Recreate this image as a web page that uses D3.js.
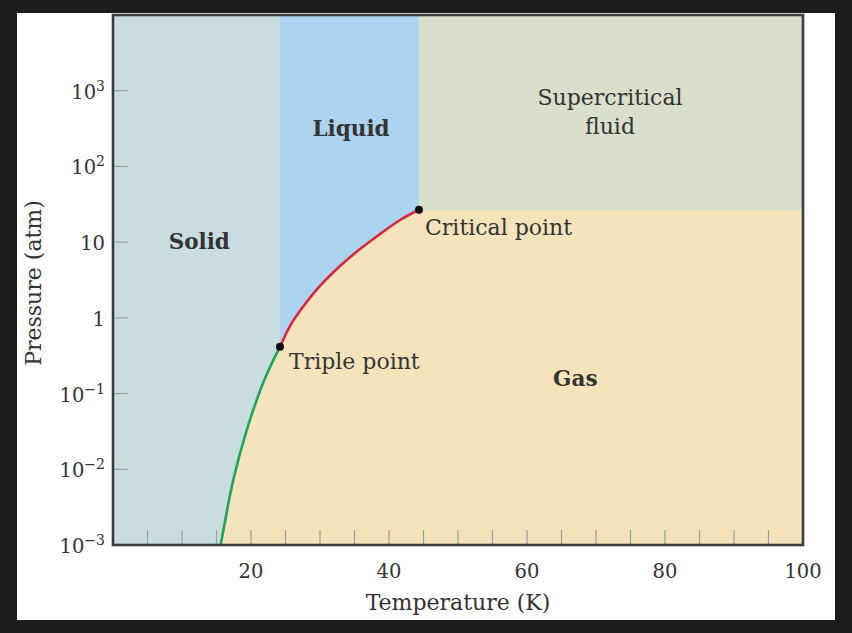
<!DOCTYPE html>
<html><head><meta charset="utf-8">
<script src="https://cdn.jsdelivr.net/npm/d3@7"></script>
<style>
html,body{margin:0;padding:0;background:#1c1c1c;}
svg{display:block;}
text{font-family:"DejaVu Serif",serif;fill:#333333;}
</style></head><body>
<svg id="chart" width="852" height="633"></svg>
<script>
// ---- data (neon phase diagram) ----
const sublimationT = [15.6, 16.49, 17.43, 19.38, 21.93, 24.2];
const sublimationP = [0.001, 0.00273, 0.00723, 0.0330, 0.151, 0.415];
const vaporT = [24.2, 25.65, 27.54, 30.0, 32.9, 35.8, 38.7, 41.6, 44.35];
const vaporP = [0.415, 0.78, 1.40, 2.64, 4.84, 8.11, 12.8, 19.6, 26.8];
const triplePoint = [24.2, 0.415];
const criticalPoint = [44.35, 26.8];
const xDomain = [0, 100];
const yDomain = [1e-3, 1e4];
const xLabelTicks = [20, 40, 60, 80, 100];
const xMinorTicks = [5,10,15,20,25,30,35,40,45,50,55,60,65,70,75,80,85,90,95];
const yTicks = [1e-3, 1e-2, 1e-1, 1, 10, 100, 1000];
const yTickBase = ["10", "10", "10", "1", "10", "10", "10"];
const yTickExp = ["\u22123", "\u22122", "\u22121", "", "", "2", "3"];
const phaseNames = ["Solid", "Liquid", "Gas"];
const phasePos = [[12.5, 8], [34.5, 250], [67, 0.125]];

const svg = d3.select("#chart");
// white panel
svg.append("rect").attr("x", 17).attr("y", 13).attr("width", 818).attr("height", 607).attr("fill", "#ffffff");

const pLeft = 113, pRight = 803, pTop = 15, pBottom = 545;
const x = d3.scaleLinear().domain(xDomain).range([pLeft, pRight]);
const y = d3.scaleLog().domain(yDomain).range([pBottom, pTop]);

const colSolid = "#c9dde1", colLiquid = "#acd3ef", colSuper = "#dadfcc", colGas = "#f5e3bb";

const g = svg.append("g");
// solid background
g.append("rect").attr("x", x(0)).attr("y", y(yDomain[1])).attr("width", x(100) - x(0)).attr("height", y(yDomain[0]) - y(yDomain[1])).attr("fill", colSolid);
// liquid
g.append("rect").attr("x", x(triplePoint[0])).attr("y", y(yDomain[1]))
  .attr("width", x(criticalPoint[0]) - x(triplePoint[0])).attr("height", y(triplePoint[1]) - y(yDomain[1])).attr("fill", colLiquid);
// supercritical
g.append("rect").attr("x", x(criticalPoint[0])).attr("y", y(yDomain[1]))
  .attr("width", x(100) - x(criticalPoint[0])).attr("height", y(criticalPoint[1]) - y(yDomain[1])).attr("fill", colSuper);

const line = d3.line().x(d => x(d[0])).y(d => y(d[1])).curve(d3.curveNatural);
const subPts = sublimationT.map((t, i) => [t, sublimationP[i]]);
const vapPts = vaporT.map((t, i) => [t, vaporP[i]]);

// gas region: under the curves
const gasPath = line(subPts) + line(vapPts).replace(/^M/, "L") +
  `L${x(100)},${y(criticalPoint[1])}L${x(100)},${y(yDomain[0])}L${x(sublimationT[0])},${y(yDomain[0])}Z`;
g.append("path").attr("d", gasPath).attr("fill", colGas);

// ticks (inside)
const tickCol = "#9aa0a0";
g.selectAll(".xt").data(xMinorTicks).enter().append("line")
  .attr("x1", d => x(d)).attr("x2", d => x(d)).attr("y1", pBottom).attr("y2", pBottom - 15)
  .attr("stroke", tickCol).attr("stroke-width", 1.2);
g.selectAll(".yt").data(yTicks.slice(1)).enter().append("line")
  .attr("x1", pLeft).attr("x2", pLeft + 15).attr("y1", d => y(d)).attr("y2", d => y(d))
  .attr("stroke", tickCol).attr("stroke-width", 1.2);

// curves
g.append("path").attr("d", line(subPts)).attr("fill", "none").attr("stroke", "#1ea55c").attr("stroke-width", 2.6);
g.append("path").attr("d", line(vapPts)).attr("fill", "none").attr("stroke", "#d8273f").attr("stroke-width", 2.6);

// border
g.append("rect").attr("x", pLeft).attr("y", pTop).attr("width", pRight - pLeft).attr("height", pBottom - pTop)
  .attr("fill", "none").attr("stroke", "#3a3d3d").attr("stroke-width", 2.6);

// points
g.selectAll(".pt").data([triplePoint, criticalPoint]).enter().append("circle")
  .attr("cx", d => x(d[0])).attr("cy", d => y(d[1])).attr("r", 4).attr("fill", "#111");

// x tick labels
svg.selectAll(".xl").data(xLabelTicks).enter().append("text")
  .attr("x", d => x(d)).attr("y", 578).attr("text-anchor", "middle").attr("font-size", 19.5).text(d => d);

// y tick labels
yTicks.forEach((v, i) => {
  const t = svg.append("text").attr("x", 105).attr("y", y(v) + 8).attr("text-anchor", "end").attr("font-size", 19.5);
  t.append("tspan").text(yTickBase[i]);
  if (yTickExp[i]) t.append("tspan").attr("dy", -8).attr("font-size", 14).text(yTickExp[i]);
});

// axis titles
svg.append("text").attr("x", x(50)).attr("y", 610).attr("text-anchor", "middle").attr("font-size", 22).text("Temperature (K)");
svg.append("text").attr("transform", `translate(41,${(pTop + pBottom) / 2 + 3}) rotate(-90)`).attr("text-anchor", "middle")
  .attr("font-size", 22).text("Pressure (atm)");

// phase labels
phaseNames.forEach((n, i) => {
  svg.append("text").attr("x", x(phasePos[i][0])).attr("y", y(phasePos[i][1])).attr("text-anchor", "middle")
    .attr("font-size", 21.5).attr("font-weight", "bold").text(n);
});
svg.append("text").attr("x", 610).attr("y", 105).attr("text-anchor", "middle").attr("font-size", 22).text("Supercritical");
svg.append("text").attr("x", 610).attr("y", 134).attr("text-anchor", "middle").attr("font-size", 22).text("fluid");
svg.append("text").attr("x", x(criticalPoint[0]) + 6).attr("y", y(criticalPoint[1]) + 25).attr("font-size", 22).text("Critical point");
svg.append("text").attr("x", x(triplePoint[0]) + 9).attr("y", y(triplePoint[1]) + 22).attr("font-size", 22).text("Triple point");
</script>
</body></html>
